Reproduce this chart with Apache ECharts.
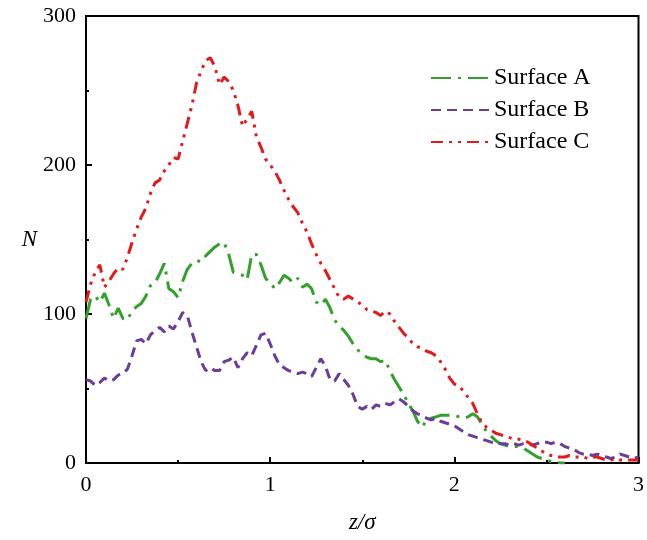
<!DOCTYPE html>
<html>
<head>
<meta charset="utf-8">
<script src="https://cdn.jsdelivr.net/npm/echarts@6/dist/echarts.min.js"></script>
<style>html,body{margin:0;padding:0;background:#fff;}#c{width:647px;height:540px;}</style>
</head>
<body>
<div id="c"></div>
<script>
// sampling step along z/sigma
const zStep = 0.025;
const seriesNames = ['Surface A', 'Surface B', 'Surface C'];
const xTicks = [0, 1, 2, 3];
const yTicks = [0, 100, 200, 300];

// Surface A (green), z = 0 .. 2.6
const surfaceA = [
  97,110,112,108,114,106,97,104,97,96,
  102,105,107,112,119,121,127,134,117,115,
  111,122,130,134,136,135,139,142,145,147,
  148,140,128,127,126,123,140,140,133,124,
  121,117,121,126,124,121,124,118,120,117,
  108,106,110,104,96,92,89,85,80,76,
  73,71,70,70,68,69,62,56,51,46,
  40,35,28,24,29,30,31,32,32,32,
  32,31,30,31,33,31,26,21,18,15,
  13,12,11,11,11,10,8,6,4,3,
  2,1,1,0,0
];
// Surface B (purple), z = 0 .. 3
const surfaceB = [
  56,55,52,54,57,55,56,59,60,63,
  72,82,83,80,86,89,91,88,92,90,
  95,101,99,88,78,68,62,64,62,62,
  68,69,71,64,70,74,72,79,86,87,
  80,72,66,64,62,61,60,61,60,58,
  64,70,65,56,55,60,56,52,46,38,
  36,38,36,39,38,40,39,41,43,41,
  38,35,33,32,30,29,30,28,27,26,
  25,23,21,19,18,17,16,15,14,14,
  13,13,12,13,12,13,13,12,13,14,
  14,13,14,13,11,10,9,7,6,6,
  5,6,5,4,3,4,6,5,4,3,
  4
];
// Surface C (red), z = 0 .. 3
const surfaceC = [
  108,120,128,133,118,122,127,131,130,138,
  148,157,165,171,181,188,190,196,200,205,
  204,216,228,240,255,263,270,272,266,254,
  259,256,250,240,226,231,236,219,212,204,
  200,196,190,183,177,172,168,161,155,147,
  140,134,129,123,117,111,110,112,110,108,
  106,103,102,101,99,102,100,95,91,87,
  84,80,78,77,75,74,72,68,63,57,
  53,52,48,44,40,33,27,24,22,20,
  19,18,17,16,16,15,14,12,10,8,
  6,5,4,4,4,5,4,4,4,3,
  4,4,3,2,2,3,2,2,2,2,
  2
];

function pairs(vals) { return vals.map((v, i) => [+(i * zStep).toFixed(3), v]); }

const FONT = 'Liberation Serif';
const chart = echarts.init(document.getElementById('c'), null, {renderer: 'canvas'});
const axisCommon = {
  axisLine: {show: true, lineStyle: {color: '#000', width: 2}},
  axisTick: {show: true, inside: true, length: 6, lineStyle: {color: '#000', width: 2}},
  minorTick: {show: true, splitNumber: 2, length: 3, lineStyle: {color: '#000', width: 2}},
  splitLine: {show: false},
  axisLabel: {color: '#000', fontFamily: FONT, fontSize: 22},
  nameLocation: 'middle',
  nameTextStyle: {color: '#000', fontFamily: FONT, fontSize: 23, fontStyle: 'italic'}
};
chart.setOption({
  animation: false,
  backgroundColor: '#fff',
  grid: {left: 86, right: 7, top: 16, bottom: 77, show: true, borderColor: '#000', borderWidth: 2},
  legend: {
    orient: 'vertical', left: 425, top: 61, itemWidth: 58, itemHeight: 14, itemGap: 8,
    itemStyle: {opacity: 0},
    textStyle: {color: '#000', fontFamily: FONT, fontSize: 24},
    data: seriesNames
  },
  xAxis: Object.assign({}, axisCommon, {
    type: 'value', min: xTicks[0], max: xTicks[xTicks.length - 1], interval: 1,
    name: 'z/σ', nameGap: 48,
    axisLabel: Object.assign({}, axisCommon.axisLabel, {margin: 11})
  }),
  yAxis: Object.assign({}, axisCommon, {
    type: 'value', min: yTicks[0], max: yTicks[yTicks.length - 1], interval: 100,
    name: 'N', nameGap: 46, nameRotate: 0,
    axisLabel: Object.assign({}, axisCommon.axisLabel, {margin: 10})
  }),
  series: [
    {name: seriesNames[0], type: 'line', data: pairs(surfaceA), showSymbol: false, symbol: 'none',
     color: '#33a02c', lineStyle: {width: 3, color: '#33a02c', type: [20, 7, 3, 7]}},
    {name: seriesNames[1], type: 'line', data: pairs(surfaceB), showSymbol: false, symbol: 'none',
     color: '#6a3d9a', lineStyle: {width: 3, color: '#6a3d9a', type: [10, 6]}},
    {name: seriesNames[2], type: 'line', data: pairs(surfaceC), showSymbol: false, symbol: 'none',
     color: '#e31a1c', lineStyle: {width: 3, color: '#e31a1c', type: [12, 6, 3, 6, 3, 6]}}
  ]
});
</script>
</body>
</html>
